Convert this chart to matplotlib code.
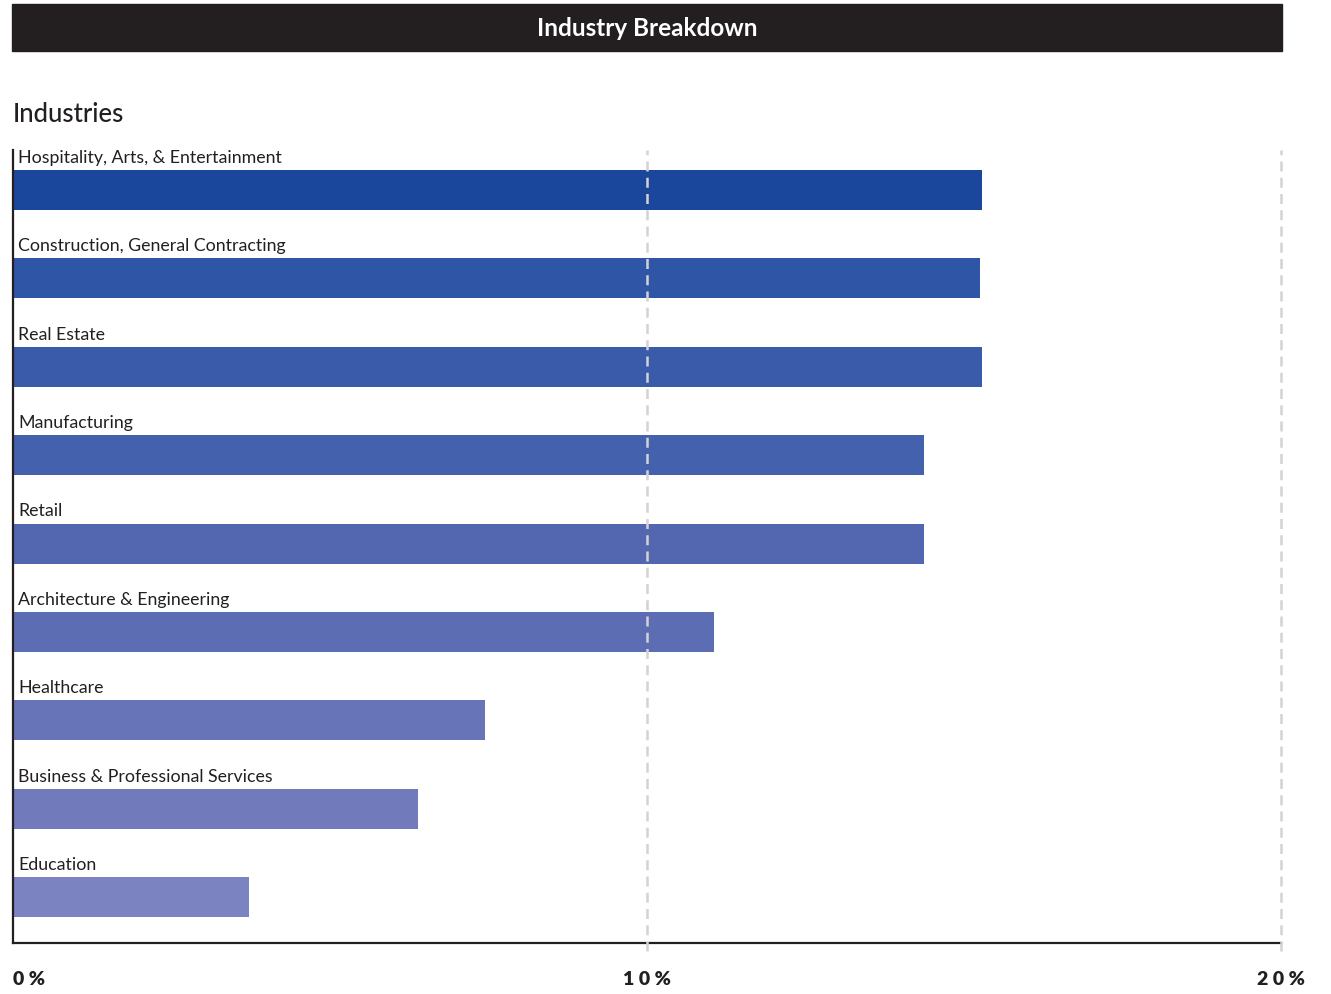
import numpy as np
import matplotlib
matplotlib.use("Agg")
import matplotlib.pyplot as plt
from matplotlib.patches import Rectangle

plt.rcParams['font.family'] = ['Lato', 'DejaVu Sans']

# данные с картинки (проценты)
industries = [
    "Hospitality, Arts, & Entertainment",
    "Construction, General Contracting",
    "Real Estate",
    "Manufacturing",
    "Retail",
    "Architecture & Engineering",
    "Healthcare",
    "Business & Professional Services",
    "Education",
]
shares = [15.28, 15.25, 15.28, 14.37, 14.37, 11.06, 7.44, 6.39, 3.72]
bar_colors = ["#1a479b", "#2f55a6", "#3a5ba9", "#4461ad", "#5367b1",
              "#5d6db3", "#6774b7", "#717bbb", "#7b83c0"]
tick_values = [0, 10, 20]
tick_labels = ["0 %", "1 0 %", "2 0 %"]

W, H = 1331, 994
fig = plt.figure(figsize=(W / 100, H / 100), dpi=100)

# чёрная плашка с заголовком
fig.patches.append(Rectangle((12 / W, 1 - 51 / H), 1270 / W, 47 / H,
                             transform=fig.transFigure, color="#231f20"))
fig.text(647 / W, 1 - 29 / H, "Industry Breakdown", color="white",
         fontsize=17.5, fontweight="bold", ha="center", va="center")
fig.text(13 / W, 1 - 115 / H, "Industries", color="#231f20",
         fontsize=18.5, fontweight="medium", ha="left", va="center")

ax = fig.add_axes([13 / W, 51 / H, 1268 / W, 793 / H])

y = np.arange(len(industries))
bh = 40 / 88.375
ax.barh(y, shares, height=bh, color=bar_colors, zorder=2)

for i, name in enumerate(industries):
    ax.text(0.08, i - bh / 2 - 0.08, name, fontsize=12.8, color="#231f20",
            ha="left", va="baseline")

for v in tick_values[1:]:
    ax.axvline(v, ymin=-0.01, ymax=1, color="#d3d3d3", lw=1.8,
               ls=(0, (4, 2.5)), zorder=3, clip_on=False)

ax.set_xlim(0, 20)
ax.set_ylim(8.52, -0.4526)
ax.set_yticks([])
ax.set_xticks(tick_values)
ax.set_xticklabels(tick_labels, fontsize=14, fontweight="heavy", color="#231f20")
ax.get_xticklabels()[0].set_ha("left")
ax.tick_params(axis="x", length=0, pad=20)

for s in ["top", "right"]:
    ax.spines[s].set_visible(False)
for s in ["left", "bottom"]:
    ax.spines[s].set_color("#231f20")
    ax.spines[s].set_linewidth(1.6)

fig.savefig("out.png", dpi=100)
